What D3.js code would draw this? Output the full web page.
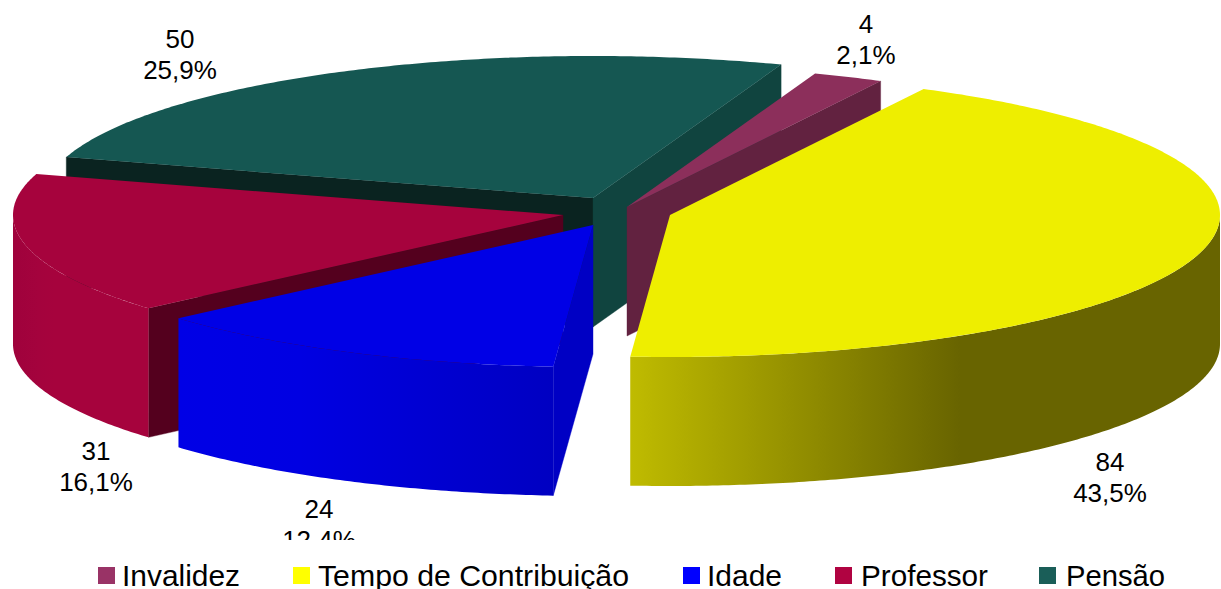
<!DOCTYPE html>
<html lang="pt">
<head>
<meta charset="utf-8">
<style>
html,body{margin:0;padding:0;background:#fff;overflow:hidden}
svg{display:block}
text{font-family:"Liberation Sans",Arial,sans-serif;fill:#000}
</style>
<script src="https://cdn.jsdelivr.net/npm/d3@7/dist/d3.min.js"></script>
</head>
<body>
<svg id="chart" width="1221" height="589"></svg>
<script>
// ---- data ----
const categories = ["Invalidez", "Tempo de Contribuição", "Idade", "Professor", "Pensão"];
const values = [4, 84, 24, 31, 50];

// ---- styles ----
const topColors = ["#8C2F5B", "#EEEE00", "#0000E6", "#A6033D", "#155752"];
const legendColors = ["#993366", "#FFFF00", "#0000FF", "#B00341", "#1A5E58"];
const startWallColors = [null, null, "#0000C4", "#54001E", "#0A2320"];
const endWallColors = ["#622240", null, null, null, "#10443F"];
const rimStops = [
  null,
  [[631, "#BFBB00"], [960, "#686400"]],
  [[177, "#0000E6"], [300, "#0000E2"], [553, "#0000C2"]],
  [[13, "#9F023C"], [38, "#A4033D"], [55, "#A6033D"]],
  null
];

// ---- layout ----
const W = 1221, H = 589;
const rx = 550, ry = 142, depth = 129;
const firstAngle = 20 * Math.PI / 180;
const anchorX = [627, 670, 593, 563, 593];
const anchorY = [207, 215, 225, 215, 198];
const drawOrder = [4, 0, 3, 1, 2];
const labelX = [866, 1110, 319, 96, 180];
const labelY = [33, 471, 518, 460, 48];
const labelGap = 30.5;
const labelClipBottom = 540;
const legendSwatchX = [98, 293, 683, 835, 1039];
const legendTextX = [122, 318, 707, 861, 1066];
const legendTextW = [118, 311, 75, 127, 99];

const svg = d3.select("#chart");
const defs = svg.append("defs");
const total = d3.sum(values);
const pct = d3.formatLocale({decimal: ",", thousands: ".", grouping: [3], currency: ["", ""]}).format(".1%");

const arcs = d3.pie().sort(null).value(d => d)
  .startAngle(firstAngle).endAngle(firstAngle + 2 * Math.PI)(values);

const sx = d3.scaleLinear().domain([-1, 1]).range([-rx, rx]);
const sy = d3.scaleLinear().domain([-1, 1]).range([-ry, ry]);
const line = d3.line();

const rimPoint = (i, a, dy = 0) => [anchorX[i] + sx(Math.sin(a)), anchorY[i] - sy(Math.cos(a)) + dy];
const sampleAngles = (a0, a1) => {
  const n = Math.max(2, Math.ceil((a1 - a0) / 0.01));
  return d3.range(n + 1).map(k => a0 + (a1 - a0) * k / n);
};

rimStops.forEach((stops, i) => {
  if (!stops) return;
  const g = defs.append("linearGradient")
    .attr("id", "rim" + i).attr("gradientUnits", "userSpaceOnUse")
    .attr("x1", stops[0][0]).attr("x2", stops[stops.length - 1][0]).attr("y1", 0).attr("y2", 0);
  const t = d3.scaleLinear().domain([stops[0][0], stops[stops.length - 1][0]]).range([0, 1]);
  stops.forEach(s => g.append("stop").attr("offset", t(s[0])).attr("stop-color", s[1]));
});

const pieG = svg.append("g").attr("class", "pie");
drawOrder.forEach(i => {
  const d = arcs[i];
  const g = pieG.append("g").attr("class", "slice");
  const apex = [anchorX[i], anchorY[i]];
  const wall = (a, color) => {
    if (!color) return;
    const p = rimPoint(i, a), q = rimPoint(i, a, depth);
    g.append("path").attr("fill", color).attr("stroke", color).attr("stroke-width", 0.4)
      .attr("d", line([apex, p, q, [apex[0], apex[1] + depth]]) + "Z");
  };
  wall(d.startAngle, startWallColors[i]);
  wall(d.endAngle, endWallColors[i]);

  // the outer side is only seen on the front half of the ellipse
  const a0 = Math.max(d.startAngle, Math.PI / 2), a1 = Math.min(d.endAngle, 1.5 * Math.PI);
  if (rimStops[i] && a1 > a0) {
    const angles = sampleAngles(a0, a1);
    const pts = angles.map(a => rimPoint(i, a)).concat(angles.slice().reverse().map(a => rimPoint(i, a, depth)));
    g.append("path").attr("fill", `url(#rim${i})`).attr("d", line(pts) + "Z");
  }

  const top = [apex].concat(sampleAngles(d.startAngle, d.endAngle).map(a => rimPoint(i, a)));
  g.append("path").attr("fill", topColors[i]).attr("d", line(top) + "Z");
});

defs.append("clipPath").attr("id", "labelClip")
  .append("rect").attr("x", 0).attr("y", 0).attr("width", W).attr("height", labelClipBottom);

const labels = svg.append("g").attr("clip-path", "url(#labelClip)")
  .selectAll("g").data(values).join("g");
labels.append("text").attr("x", (d, i) => labelX[i]).attr("y", (d, i) => labelY[i])
  .attr("text-anchor", "middle").attr("font-size", 26).text(d => d);
labels.append("text").attr("x", (d, i) => labelX[i]).attr("y", (d, i) => labelY[i] + labelGap)
  .attr("text-anchor", "middle").attr("font-size", 26).text(d => pct(d / total));

const legend = svg.append("g").selectAll("g").data(categories).join("g");
legend.append("rect").attr("x", (d, i) => legendSwatchX[i]).attr("y", 567)
  .attr("width", 17).attr("height", 17).attr("fill", (d, i) => legendColors[i]);
legend.append("text").attr("x", (d, i) => legendTextX[i]).attr("y", 586)
  .attr("font-size", 29).attr("textLength", (d, i) => legendTextW[i])
  .attr("lengthAdjust", "spacingAndGlyphs").text(d => d);
</script>
</body>
</html>
